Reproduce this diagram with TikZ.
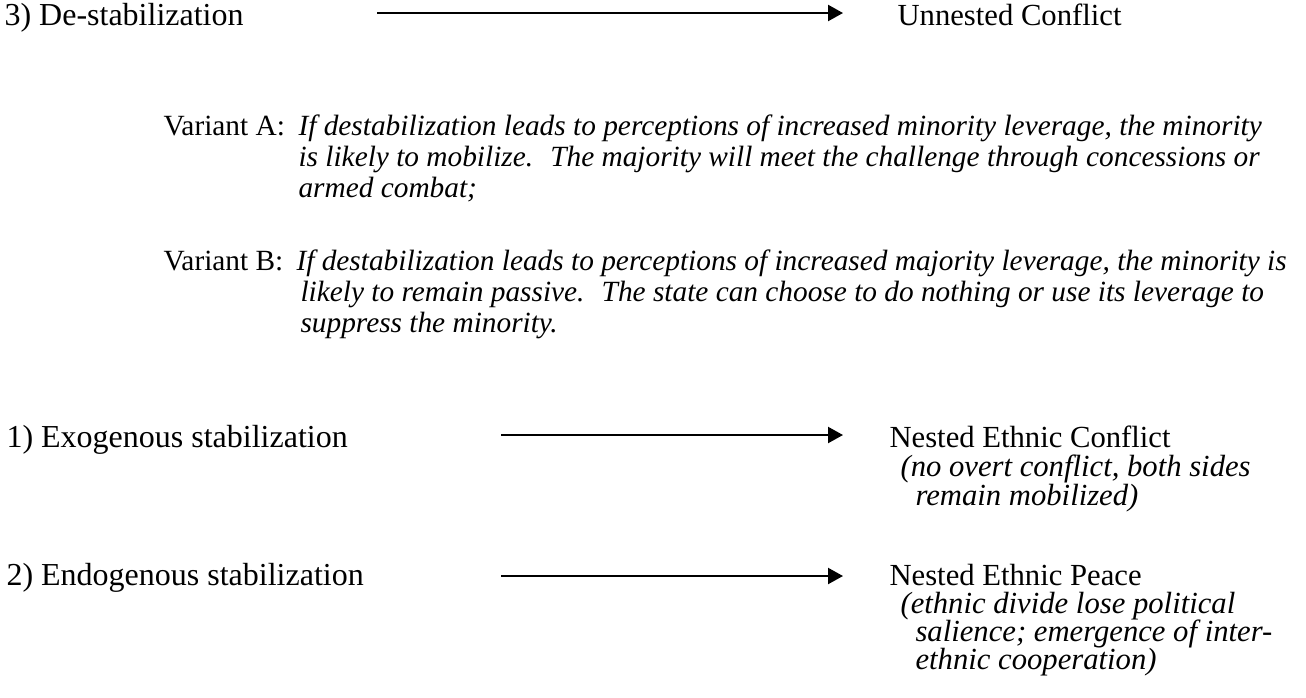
\documentclass[tikz,border=0pt]{standalone}
\usepackage{fontspec}
\setmainfont{Liberation Serif}
\usetikzlibrary{arrows.meta, positioning}

\begin{document}
\begin{tikzpicture}[
        x=0.375pt, y=-0.375pt,
        txt/.style = {inner sep=0pt, anchor=base west, font=\fontsize{12}{14}\selectfont},
        vtxt/.style = {txt, font=\fontsize{11}{13}\selectfont},
        note/.style = {txt, font=\fontsize{11}{13}\selectfont\itshape},
        outcome/.style = {txt, font=\fontsize{11.5}{13.5}\selectfont},
        remark/.style = {txt, font=\fontsize{11.5}{13.5}\selectfont\itshape},
        arrow/.style = {-{Triangle[length=5.6pt, width=6pt]}, line width=0.75pt}
    ]
        \useasboundingbox (0,0) rectangle (1306,697);

        % Row 3: De-stabilization
        \node [txt] (dest) at (4,25) {3) De-stabilization};
        \node [outcome] (unnested) at (897,25) {Unnested Conflict};
        \coordinate (destA) at (377,13);
        \coordinate (destB) at (843,13);

        % Variant A
        \node [vtxt] (varA) at (163,135) {Variant A:};
        \node [note] (varA1) at (298,135) {If destabilization leads to perceptions of increased minority leverage, the minority};
        \node [note] (varA2) at (298,166) {is likely to mobilize.~ The majority will meet the challenge through concessions or};
        \node [note] (varA3) at (298,197) {armed combat;};

        % Variant B
        \node [vtxt] (varB) at (163,270) {Variant B:};
        \node [note] (varB1) at (296,270) {If destabilization leads to perceptions of increased majority leverage, the minority is};
        \node [note] (varB2) at (300,301) {likely to remain passive.~ The state can choose to do nothing or use its leverage to};
        \node [note] (varB3) at (300,332) {suppress the minority.};

        % Row 1: Exogenous stabilization
        \node [txt] (exo) at (6,447) {1) Exogenous stabilization};
        \node [outcome] (nconf) at (889,447) {Nested Ethnic Conflict};
        \node [remark] (nconf1) at (900,476) {(no overt conflict, both sides};
        \node [remark] (nconf2) at (915,505) {remain mobilized)};
        \coordinate (exoA) at (501,435);
        \coordinate (exoB) at (843,435);

        % Row 2: Endogenous stabilization
        \node [txt] (endo) at (6,585) {2) Endogenous stabilization};
        \node [outcome] (npeace) at (889,585) {Nested Ethnic Peace};
        \node [remark] (npeace1) at (900,613) {(ethnic divide lose political};
        \node [remark] (npeace2) at (915,641) {salience; emergence of inter-};
        \node [remark] (npeace3) at (915,669) {ethnic cooperation)};
        \coordinate (endoA) at (501,576);
        \coordinate (endoB) at (843,576);

        % Connections
        \draw [arrow] (destA) -- (destB);
        \draw [arrow] (exoA) -- (exoB);
        \draw [arrow] (endoA) -- (endoB);
    \end{tikzpicture}
\end{document}
